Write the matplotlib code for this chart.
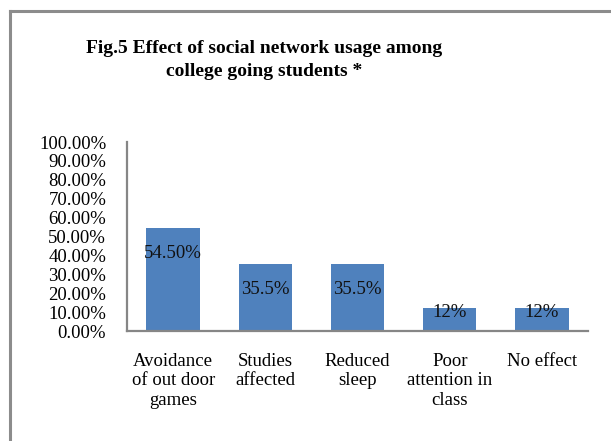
import matplotlib

matplotlib.use("Agg")
import matplotlib.pyplot as plt
from matplotlib.lines import Line2D
import numpy as np

categories = [
    "Avoidance\nof out door\ngames",
    "Studies\naffected",
    "Reduced\nsleep",
    "Poor\nattention in\nclass",
    "No effect",
]
values = [54.5, 35.5, 35.5, 12.0, 12.0]
value_labels = ["54.50%", "35.5%", "35.5%", "12%", "12%"]
y_ticks = [0, 10, 20, 30, 40, 50, 60, 70, 80, 90, 100]

plt.rcParams["font.family"] = ["Liberation Serif", "DejaVu Serif"]
FS = 13.5

fig = plt.figure(figsize=(6.11, 4.41), dpi=100)
ax = fig.add_axes([0.2079, 0.2494, 0.7545, 0.4286])

x = np.arange(len(categories))
ax.bar(x, values, width=0.58, color="#4f81bd", zorder=2)

# data labels sit a little below the bar top, nudged up on short bars
for xi, v, text in zip(x, values, value_labels):
    y = v - 13.5 if v > 20 else v - 2
    ax.text(xi, y, text, ha="center", va="center", fontsize=FS, color="#111111")

ax.set_xlim(-0.5, len(categories) - 0.5)
ax.set_ylim(0, 100)
ax.set_yticks(y_ticks)
ax.set_yticklabels([f"{t:.2f}%" for t in y_ticks], fontsize=FS)
ax.set_xticks(x)
ax.set_xticklabels(categories, fontsize=FS, linespacing=1.22, va="top")
ax.tick_params(axis="both", length=0)
ax.tick_params(axis="x", pad=15.5)
ax.tick_params(axis="y", pad=15)

for side in ("top", "right"):
    ax.spines[side].set_visible(False)
for side in ("left", "bottom"):
    ax.spines[side].set_color("#868686")
    ax.spines[side].set_linewidth(1.6)

fig.text(0.432, 0.864, "Fig.5 Effect of social network usage among\ncollege going students *",
         ha="center", va="center", fontsize=14, fontweight="bold", linespacing=1.5)

# frame around the chart area (only top and left edges fall inside the image)
fig.add_artist(Line2D([10 / 611, 1.0], [1 - 11 / 441, 1 - 11 / 441],
                      transform=fig.transFigure, color="#8c8c8c", linewidth=2.2))
fig.add_artist(Line2D([10 / 611, 10 / 611], [0.0, 1 - 11 / 441],
                      transform=fig.transFigure, color="#8c8c8c", linewidth=2.2))

fig.savefig("out.png", dpi=100, facecolor="white")
plt.close(fig)
